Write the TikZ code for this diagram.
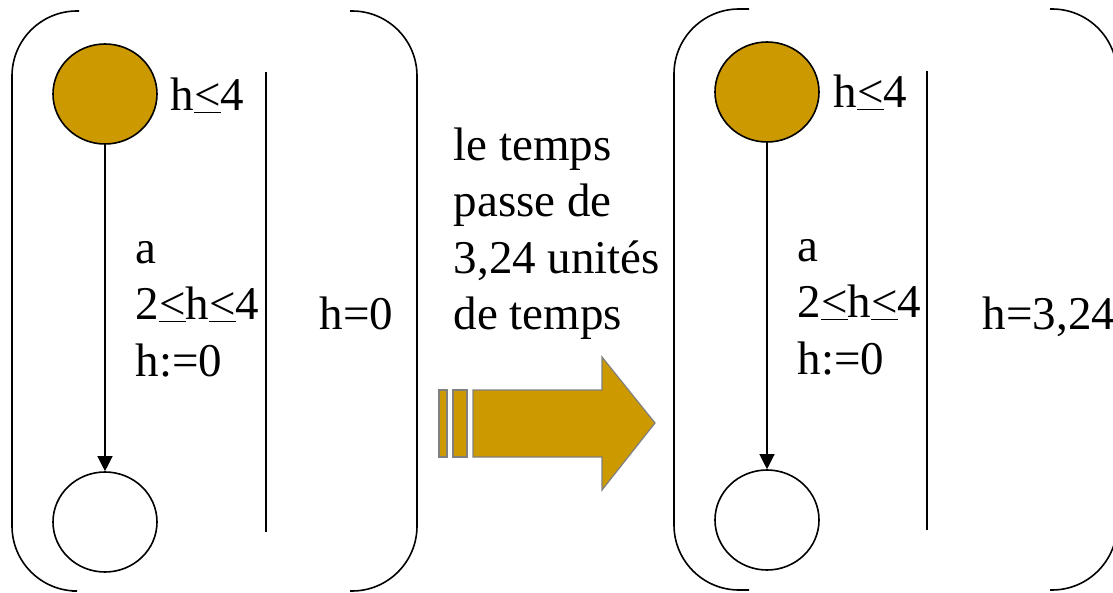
\documentclass[tikz,border=0pt]{standalone}
\usepackage{fontspec}
\IfFontExistsTF{LiberationSerif-Regular.ttf}
  {\setmainfont{LiberationSerif-Regular.ttf}}
  {\setmainfont{Liberation Serif}}
\usetikzlibrary{shapes.geometric,arrows.meta}
\definecolor{gold}{HTML}{CC9900}
\definecolor{edgegray}{HTML}{808080}
\newcommand{\uless}{\underline{<}}

\begin{document}
\begin{tikzpicture}[x=1pt, y=-1pt, line width=1.6pt,
  font=\fontsize{47}{56.5}\selectfont,
  loc/.style={ellipse, draw, minimum width=104pt, minimum height=100pt, inner sep=0pt},
  txt/.style={anchor=base west, inner sep=0pt, align=left},
  paren/.style={rounded corners=65pt},
  trans/.style={-{Triangle[length=15pt,width=15pt]}, line width=1.2pt}]
\useasboundingbox (0,0) rectangle (1113,593);
% etat de depart
\draw[paren] (79,11) -- (12,11) -- (12,591) -- (72,591);
\draw[paren] (350,11) -- (417,11) -- (417,591) -- (350,591);
\node[loc, fill=gold] (l1) at (105,94) {};
\node[loc] (l2) at (105,522) {};
\draw[trans] (l1) -- (l2);
\node[txt] (inv1) at (170,111) {h\uless 4};
\node[txt] (lab1) at (135,376) {a\\2\uless h\uless 4\\h:=0};
\draw (266,72) -- (266,532);
\node[txt] (val1) at (319,330) {h=0};
% le temps passe
\node[txt] (msg) at (453,330) {le temps\\passe de\\3,24 unités\\de temps};
\draw[fill=gold, draw=edgegray, line width=1.2pt] (439,390) rectangle (447,457);
\draw[fill=gold, draw=edgegray, line width=1.2pt] (453,390) rectangle (467,457);
\draw[fill=gold, draw=edgegray, line width=1.2pt] (473,390) -- (602,390) -- (602,357) -- (655,423)
  -- (602,490) -- (602,457) -- (473,457) -- cycle;
% etat d'arrivee
\draw[paren] (749,9) -- (674,9) -- (674,590) -- (749,590);
\draw[paren] (1050,9) -- (1117,9) -- (1117,590) -- (1050,590);
\node[loc, fill=gold] (r1) at (767,92) {};
\node[loc] (r2) at (767,520) {};
\draw[trans] (r1) -- (r2);
\node[txt] (inv2) at (833,108) {h\uless 4};
\node[txt] (lab2) at (797,374) {a\\2\uless h\uless 4\\h:=0};
\draw (927,71) -- (927,530);
\node[txt] (val2) at (982,330) {h=3,24};
\end{tikzpicture}
\end{document}
